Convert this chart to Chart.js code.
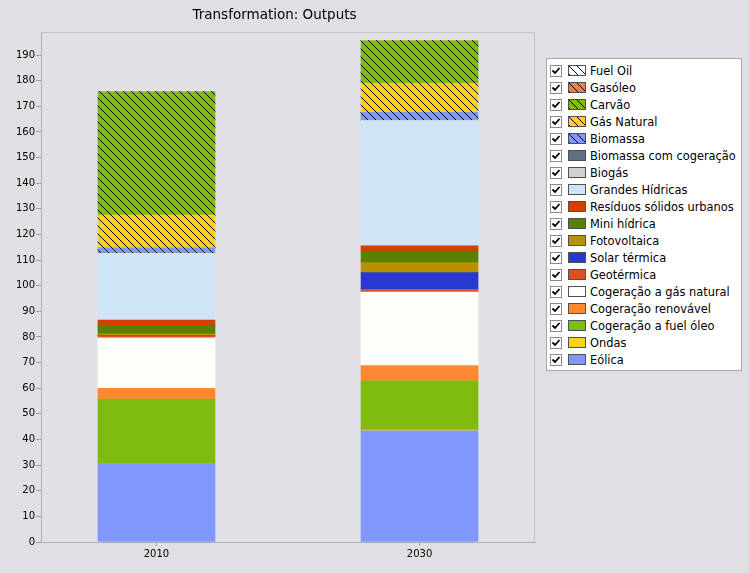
<!DOCTYPE html>
<html>
<head>
<meta charset="utf-8">
<script src="https://cdn.jsdelivr.net/npm/chart.js@4.4.1/dist/chart.umd.min.js"></script>
<style>
  body { margin: 0; background: #e0e0e4; width: 749px; height: 573px; overflow: hidden; position: relative; }
  #wrap { position: absolute; left: 0; top: 0; width: 550px; height: 573px; }
  #legend { position: absolute; left: 546px; top: 58px; width: 194px; background: #fff; border: 1px solid #a8a8a8;
            padding: 3px 0 2px 0; font-family: "DejaVu Sans", sans-serif; font-size: 11.4px; color: #000; }
  .row { height: 17px; display: flex; align-items: center; white-space: nowrap; }
  .chk { flex-shrink: 0; width: 10px; height: 10px; margin-left: 3px; border: 1px solid #8a8a8a; background: #fff; position: relative; }
  .chk svg { position: absolute; left: 0; top: 0; }
  .sw { flex-shrink: 0; width: 18px; height: 11px; margin-left: 6px; border: 1px solid #505050; box-sizing: border-box; }
  .lbl { margin-left: 4px; }
</style>
</head>
<body>
<div id="wrap"><canvas id="myChart" width="550" height="573"></canvas></div>
<div id="legend"></div>
<script>
// categories
const years = ['2010', '2030'];

// series, in legend order (top of stack first)
const seriesNames = ['Fuel Oil', 'Gasóleo', 'Carvão', 'Gás Natural', 'Biomassa', 'Biomassa com cogeração',
    'Biogás', 'Grandes Hídricas', 'Resíduos sólidos urbanos', 'Mini hídrica', 'Fotovoltaica',
    'Solar térmica', 'Geotérmica', 'Cogeração a gás natural', 'Cogeração renovável',
    'Cogeração a fuel óleo', 'Ondas', 'Eólica'];

const values2010 = [0, 0, 48.1, 12.8, 2.2, 0, 0, 26.0, 2.2, 3.2, 0.7, 0, 0.8, 19.7, 4.2, 25.4, 0, 30.4];
const values2030 = [0, 0, 16.6, 11.3, 3.3, 0, 0, 48.8, 2.3, 4.3, 3.9, 6.5, 1.1, 28.7, 5.9, 19.2, 0.3, 43.4];

// y axis
const yMax = 199;
const yStep = 10;

// styles
const colors = ['#ffffff', '#f08048', '#80bc10', '#ffd020', '#8098f8', '#607080', '#d0d0d0', '#d0e4f8',
    '#d04000', '#5a8000', '#b89000', '#2838d0', '#e05020', '#fffffa', '#ff8830', '#80bc10', '#ffd020', '#8098ff'];
const hatched = [true, true, true, true, true, false, false, false, false, false, false, false, false, false, false, false, false, false];

function makeHatch(color) {
    let c = document.createElement('canvas');
    c.width = 8; c.height = 8;
    let g = c.getContext('2d');
    g.fillStyle = color;
    g.fillRect(0, 0, 8, 8);
    g.fillStyle = '#000';
    for (let i = 0; i < 8; i++) {
        g.fillRect(i, i, 1, 1);
    }
    return c;
}

let datasets = [];
for (let i = seriesNames.length - 1; i >= 0; i--) {
    let fill = colors[i];
    if (hatched[i]) {
        fill = document.getElementById('myChart').getContext('2d').createPattern(makeHatch(colors[i]), 'repeat');
    }
    datasets.push({
        label: seriesNames[i],
        data: [{x: 0, y: values2010[i]}, {x: 1, y: values2030[i]}],
        backgroundColor: fill,
        borderWidth: 0,
        barThickness: 117
    });
}

const plotBox = {
    id: 'plotBox',
    beforeDraw(chart) {
        const {ctx, chartArea: a} = chart;
        ctx.save();
        ctx.fillStyle = '#e1e1e5';
        ctx.fillRect(a.left, a.top, a.right - a.left, a.bottom - a.top);
        ctx.strokeStyle = '#c4c4c8';
        ctx.lineWidth = 1;
        ctx.strokeRect(a.left + 0.5, a.top + 0.5, a.right - a.left - 1, a.bottom - a.top);
        ctx.restore();
    }
};

var chart = new Chart(document.getElementById('myChart'), {
    type: 'bar',
    data: { datasets: datasets },
    plugins: [plotBox],
    options: {
        responsive: false,
        animation: false,
        layout: { padding: { left: 14, right: 15, top: 0, bottom: 0 } },
        plugins: {
            legend: { display: false },
            tooltip: { enabled: false },
            title: {
                display: true,
                text: 'Transformation: Outputs',
                color: '#000',
                font: { family: 'DejaVu Sans', size: 13.5, weight: 'normal', lineHeight: 1.2 },
                padding: { top: 7.8, bottom: 8 }
            }
        },
        scales: {
            x: {
                type: 'linear',
                stacked: true,
                offset: false,
                min: -0.439,
                max: 1.439,
                afterBuildTicks: (s) => { s.ticks = years.map((y, i) => ({ value: i })); },
                afterFit: (s) => { s.height = 31; },
                ticks: {
                    callback: (v) => years[v],
                    color: '#000',
                    font: { family: 'DejaVu Sans', size: 10 },
                    padding: 2,
                    maxRotation: 0
                },
                grid: { drawOnChartArea: false, offset: false, tickLength: 4, color: '#a0a0a0' },
                border: { color: '#b0b0b4' }
            },
            y: {
                stacked: true,
                min: 0,
                max: yMax,
                afterFit: (s) => { s.width = 27; },
                afterBuildTicks: (s) => { s.ticks = s.ticks.filter(t => t.value % yStep === 0); },
                ticks: {
                    stepSize: yStep,
                    color: '#000',
                    font: { family: 'DejaVu Sans', size: 10 },
                    padding: 1
                },
                grid: { drawOnChartArea: false, tickLength: 5, color: '#a0a0a0' },
                border: { color: '#b0b0b4' }
            }
        }
    }
});

// html legend
const legend = document.getElementById('legend');
seriesNames.forEach(function(name, i) {
    let row = document.createElement('div');
    row.className = 'row';
    let sw = hatched[i]
        ? 'background-image:url(' + makeHatch(colors[i]).toDataURL() + ')'
        : 'background:' + colors[i];
    row.innerHTML = '<span class="chk"><svg width="10" height="10" viewBox="0 0 10 10">' +
        '<path d="M1.5 4.5 L4 7 L8.5 2" stroke="#000" stroke-width="1.8" fill="none"/></svg></span>' +
        '<span class="sw" style="' + sw + '"></span><span class="lbl">' + name + '</span>';
    legend.appendChild(row);
});
</script>
</body>
</html>
